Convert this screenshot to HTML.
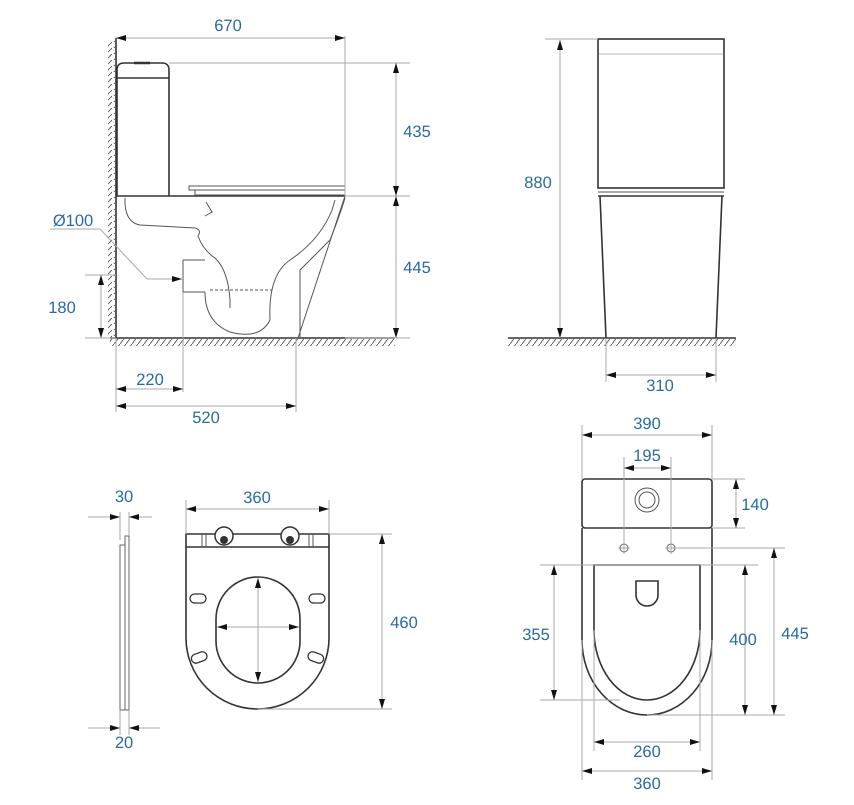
<!DOCTYPE html>
<html><head><meta charset="utf-8"><style>
html,body{margin:0;padding:0;background:#fff;}
svg{display:block;}
text{font-family:"Liberation Sans",sans-serif;font-size:16.5px;fill:#2a6aa2;text-anchor:middle;text-rendering:geometricPrecision;}
.d{stroke:#a8a8a8;stroke-width:1;fill:none;}
.o{stroke:#333;stroke-width:1.6;fill:none;}
.t{stroke:#555;stroke-width:1;fill:none;}
</style></head><body>
<svg width="854" height="805" viewBox="0 0 854 805" xmlns="http://www.w3.org/2000/svg">
<defs>
<marker id="a" viewBox="0 0 10 6" refX="10" refY="3" markerWidth="10" markerHeight="6" orient="auto-start-reverse" markerUnits="userSpaceOnUse"><path d="M0,0L10,3L0,6z" fill="#111"/></marker>
<pattern id="hf" width="6" height="8" patternUnits="userSpaceOnUse"><path d="M6,0L0,8" stroke="#555" stroke-width="0.9"/></pattern>
<pattern id="hw" width="8" height="6" patternUnits="userSpaceOnUse"><path d="M8,0L0,8" stroke="#555" stroke-width="0.9"/></pattern>
</defs>

<!-- ===== SIDE VIEW ===== -->
<rect x="108" y="40" width="7" height="298" fill="url(#hw)"/>
<rect x="110" y="339" width="285" height="7" fill="url(#hf)"/>
<line class="o" x1="116" y1="38" x2="116" y2="338"/>
<line class="o" x1="110" y1="338" x2="395" y2="338"/>
<path class="o" d="M117,196 V70 Q117,63 124,63 H162 Q169,63 169,70 V196"/>
<line class="o" x1="117" y1="78" x2="169" y2="78"/>
<line class="o" x1="134" y1="63" x2="150" y2="63" style="stroke-width:2.5"/>
<line class="o" x1="116" y1="196" x2="345" y2="196"/>
<path class="t" d="M189,186 H345 V190 H189 Z"/>
<path class="t" d="M195,190 V195 H345"/>
<path class="t" d="M125,198 Q124,222 140,225 L195,228 Q202,230 198,236 Q203,250 215,258 Q228,270 230,300 L230,308"/>
<path class="t" d="M206,202 L212,212 L205,216"/>
<path class="t" d="M183,260 H205 M183,260 V292 H205"/>
<path class="t" d="M205,292 Q205,322 230,332 Q260,340 270,320 Q268,275 290,260 Q320,240 332,210 L335,200"/>
<path class="t" d="M300,338 V270 L330,240 Q340,215 345,198"/>
<line x1="210" y1="290" x2="272" y2="290" stroke="#555" stroke-dasharray="3,2"/>
<line class="t" x1="345" y1="196" x2="298" y2="338"/>
<line class="d" x1="345" y1="36" x2="345" y2="196"/>
<line class="d" x1="116" y1="38" x2="345" y2="38" marker-start="url(#a)" marker-end="url(#a)"/>
<text x="228" y="31">670</text>
<line class="d" x1="169" y1="63" x2="410" y2="63"/>
<line class="d" x1="345" y1="196" x2="410" y2="196"/>
<line class="d" x1="345" y1="338" x2="410" y2="338"/>
<line class="d" x1="396" y1="63" x2="396" y2="196" marker-start="url(#a)" marker-end="url(#a)"/>
<line class="d" x1="396" y1="196" x2="396" y2="338" marker-start="url(#a)" marker-end="url(#a)"/>
<text x="417" y="137">435</text>
<text x="417" y="273">445</text>
<line class="d" x1="85" y1="275" x2="116" y2="275"/>
<line class="d" x1="85" y1="338" x2="116" y2="338"/>
<line class="d" x1="101" y1="275" x2="101" y2="338" marker-start="url(#a)" marker-end="url(#a)"/>
<text x="62" y="313">180</text>
<text x="73" y="226">Ø100</text>
<polyline class="d" points="50,229 100,229 147,279 182,279" marker-end="url(#a)"/>
<line class="d" x1="183" y1="292" x2="183" y2="392"/>
<line class="d" x1="116" y1="338" x2="116" y2="412"/>
<line class="d" x1="296" y1="338" x2="296" y2="412"/>
<line class="d" x1="116" y1="389" x2="183" y2="389" marker-start="url(#a)" marker-end="url(#a)"/>
<text x="150" y="385">220</text>
<line class="d" x1="116" y1="406" x2="296" y2="406" marker-start="url(#a)" marker-end="url(#a)"/>
<text x="206" y="423">520</text>

<!-- ===== FRONT VIEW ===== -->
<rect x="508" y="339" width="228" height="7" fill="url(#hf)"/>
<line class="o" x1="508" y1="338" x2="736" y2="338"/>
<rect class="o" x="598" y="39" width="126" height="149"/>
<line x1="599" y1="54" x2="723" y2="54" stroke="#bbb"/>
<line class="t" x1="598" y1="192" x2="724" y2="192"/>
<line class="o" x1="598" y1="196" x2="724" y2="196"/>
<path class="o" d="M600,196 L606,338 M722,196 L716,338"/>
<line class="d" x1="545" y1="39" x2="598" y2="39"/>
<line class="d" x1="560" y1="40" x2="560" y2="338" marker-start="url(#a)" marker-end="url(#a)"/>
<text x="538" y="188">880</text>
<line class="d" x1="606" y1="338" x2="606" y2="382"/>
<line class="d" x1="716" y1="338" x2="716" y2="382"/>
<line class="d" x1="606" y1="375" x2="716" y2="375" marker-start="url(#a)" marker-end="url(#a)"/>
<text x="660" y="391">310</text>

<!-- ===== SEAT SIDE PROFILE ===== -->
<rect x="120" y="545" width="5" height="165" fill="none" stroke="#666"/>
<rect x="125" y="536" width="4" height="174" fill="none" stroke="#666"/>
<line class="d" x1="120" y1="512" x2="120" y2="540"/>
<line class="d" x1="129" y1="512" x2="129" y2="536"/>
<line class="d" x1="88" y1="517" x2="120" y2="517" marker-end="url(#a)"/>
<line class="d" x1="152" y1="517" x2="129" y2="517" marker-end="url(#a)"/>
<text x="124" y="502">30</text>
<line class="d" x1="120" y1="710" x2="120" y2="735"/>
<line class="d" x1="129" y1="710" x2="129" y2="735"/>
<line class="d" x1="88" y1="728" x2="120" y2="728" marker-end="url(#a)"/>
<line class="d" x1="160" y1="728" x2="129" y2="728" marker-end="url(#a)"/>
<text x="124" y="748">20</text>

<!-- ===== SEAT TOP ===== -->
<path class="o" d="M186,534 V638 A71.5,71 0 0 0 329,638 V534 Z"/>
<line class="o" x1="186" y1="547" x2="329" y2="547"/>
<path class="t" d="M202,534 V547 M206,534 V547 M309,534 V547 M313,534 V547"/>
<circle cx="224" cy="536" r="9" fill="#fff" stroke="#333" stroke-width="1.5"/>
<circle cx="290" cy="536" r="9" fill="#fff" stroke="#333" stroke-width="1.5"/>
<circle cx="224" cy="540" r="4" fill="#333"/>
<circle cx="290" cy="540" r="4" fill="#333"/>
<rect class="o" x="216" y="577" width="84" height="106" rx="42" ry="42"/>
<rect class="t" x="190" y="594" width="16" height="9" rx="4.5" style="stroke:#333;stroke-width:1.3"/>
<rect class="t" x="309" y="594" width="16" height="9" rx="4.5" style="stroke:#333;stroke-width:1.3"/>
<rect class="t" x="191" y="653" width="16" height="9" rx="4.5" transform="rotate(-20 199 657)" style="stroke:#333;stroke-width:1.3"/>
<rect class="t" x="308" y="653" width="16" height="9" rx="4.5" transform="rotate(20 316 657)" style="stroke:#333;stroke-width:1.3"/>
<line class="d" x1="258" y1="578" x2="258" y2="682" marker-start="url(#a)" marker-end="url(#a)"/>
<line class="d" x1="217" y1="627" x2="299" y2="627" marker-start="url(#a)" marker-end="url(#a)"/>
<line class="d" x1="186" y1="500" x2="186" y2="534"/>
<line class="d" x1="329" y1="500" x2="329" y2="534"/>
<line class="d" x1="186" y1="509" x2="329" y2="509" marker-start="url(#a)" marker-end="url(#a)"/>
<text x="257" y="503">360</text>
<line class="d" x1="329" y1="534" x2="392" y2="534"/>
<line class="d" x1="258" y1="709" x2="392" y2="709"/>
<line class="d" x1="382" y1="534" x2="382" y2="709" marker-start="url(#a)" marker-end="url(#a)"/>
<text x="404" y="628">460</text>

<!-- ===== TOP VIEW ===== -->
<rect class="o" x="582" y="479" width="130" height="49" rx="3"/>
<circle cx="647" cy="500" r="12" fill="none" stroke="#555"/>
<circle cx="647" cy="500" r="8" fill="none" stroke="#555"/>
<path class="o" d="M582,528 V640 A65,75 0 0 0 712,640 V528"/>
<path class="o" d="M594,565 H700 V630 A53,70 0 0 1 594,630 Z"/>
<path class="o" d="M636,581 H658 V595 A11,11 0 0 1 636,595 Z"/>
<circle cx="624" cy="548" r="4" fill="none" stroke="#666"/>
<circle cx="671" cy="548" r="4" fill="none" stroke="#666"/>
<path class="d" d="M618,548 H630 M665,548 H677"/>
<line class="d" x1="582" y1="425" x2="582" y2="479"/>
<line class="d" x1="712" y1="425" x2="712" y2="479"/>
<line class="d" x1="582" y1="435" x2="712" y2="435" marker-start="url(#a)" marker-end="url(#a)"/>
<text x="647" y="429">390</text>
<line class="d" x1="624" y1="457" x2="624" y2="554"/>
<line class="d" x1="671" y1="457" x2="671" y2="554"/>
<line class="d" x1="624" y1="468" x2="671" y2="468" marker-start="url(#a)" marker-end="url(#a)"/>
<text x="647" y="461">195</text>
<line class="d" x1="712" y1="479" x2="745" y2="479"/>
<line class="d" x1="712" y1="528" x2="745" y2="528"/>
<line class="d" x1="736" y1="479" x2="736" y2="528" marker-start="url(#a)" marker-end="url(#a)"/>
<text x="755" y="510">140</text>
<line class="d" x1="677" y1="548" x2="785" y2="548"/>
<line class="d" x1="540" y1="565" x2="758" y2="565"/>
<line class="d" x1="540" y1="700" x2="620" y2="700"/>
<line class="d" x1="647" y1="715" x2="785" y2="715"/>
<line class="d" x1="554" y1="565" x2="554" y2="700" marker-start="url(#a)" marker-end="url(#a)"/>
<text x="536" y="640">355</text>
<line class="d" x1="745" y1="565" x2="745" y2="715" marker-start="url(#a)" marker-end="url(#a)"/>
<text x="743" y="645">400</text>
<line class="d" x1="774" y1="548" x2="774" y2="715" marker-start="url(#a)" marker-end="url(#a)"/>
<text x="795" y="639">445</text>
<line class="d" x1="594" y1="630" x2="594" y2="751"/>
<line class="d" x1="700" y1="630" x2="700" y2="751"/>
<line class="d" x1="594" y1="742" x2="700" y2="742" marker-start="url(#a)" marker-end="url(#a)"/>
<text x="647" y="757">260</text>
<line class="d" x1="582" y1="640" x2="582" y2="780"/>
<line class="d" x1="712" y1="640" x2="712" y2="780"/>
<line class="d" x1="582" y1="771" x2="712" y2="771" marker-start="url(#a)" marker-end="url(#a)"/>
<text x="647" y="789">360</text>
</svg>
</body></html>
